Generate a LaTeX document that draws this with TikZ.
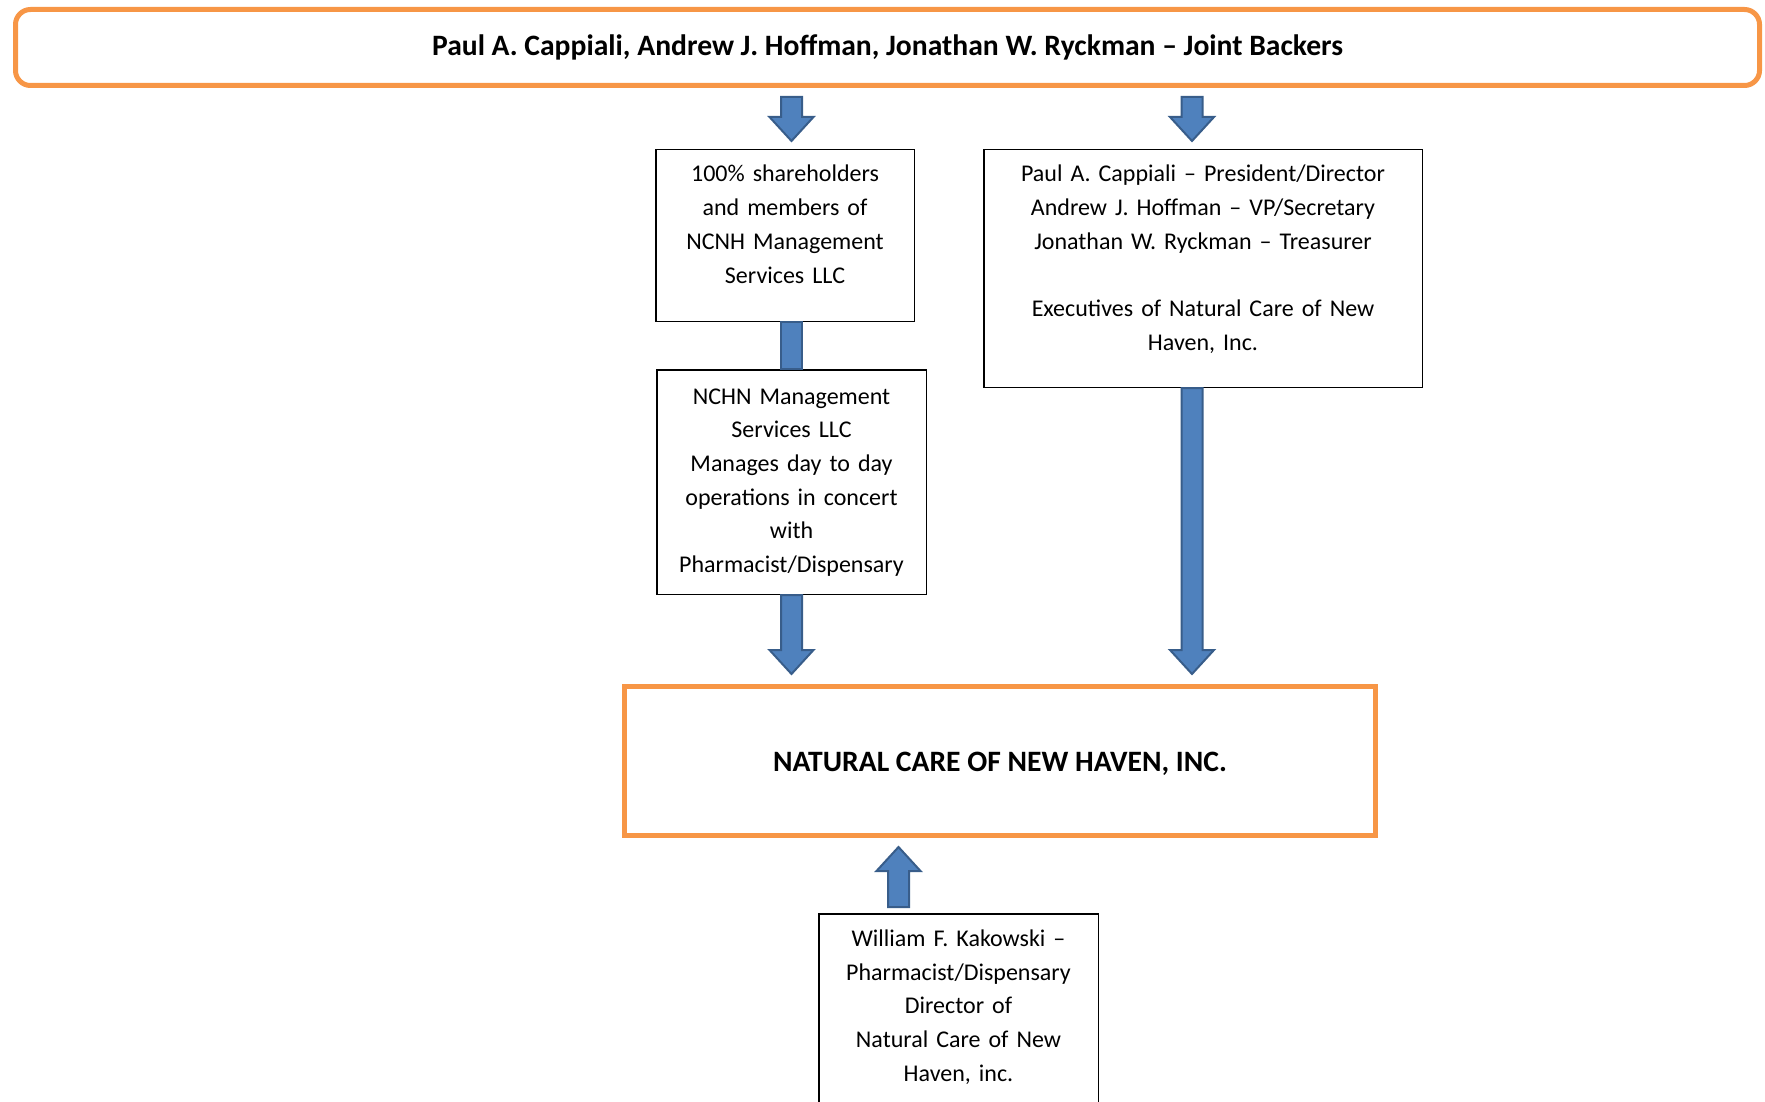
\documentclass[tikz,border=0pt]{standalone}
\usepackage{fontspec}
\setmainfont{Carlito}
\usetikzlibrary{calc, positioning}

\definecolor{backerorange}{HTML}{F79646}
\definecolor{arrowfill}{HTML}{4F81BD}
\definecolor{arrowline}{HTML}{385D8A}

\begin{document}
\begin{tikzpicture}[
    x=1pt, y=-1pt,
    every node/.style={font=\fontsize{24}{33.7}\selectfont},
    orgbox/.style={rectangle, draw, line width=1.5pt, inner sep=0pt, align=center, anchor=north west},
    mainbox/.style={rectangle, draw=backerorange, line width=5pt, align=center,
        font=\fontsize{29.6}{34}\selectfont\bfseries},
    blockarrow/.style={draw=arrowline, fill=arrowfill, line width=2pt,
        to path={let \p1=(\tikztostart), \p2=(\tikztotarget), \n1={ifthenelse(\y1>\y2,1,-1)} in
            (\x1-10.5pt,\y1) -- (\x1+10.5pt,\y1) -- (\x1+10.5pt,\y2+\n1*24pt) -- (\x1+22pt,\y2+\n1*24pt)
            -- (\x1,\y2) -- (\x1-22pt,\y2+\n1*24pt) -- (\x1-10.5pt,\y2+\n1*24pt) -- cycle}},
    shaftbar/.style={draw=arrowline, fill=arrowfill, line width=2pt,
        to path={let \p1=(\tikztostart), \p2=(\tikztotarget) in
            (\x1-10.5pt,\y1) rectangle (\x1+10.5pt,\y2)}}
]
\clip (0,0) rectangle (1765,1102);

\node[mainbox, rounded corners=15pt, minimum width=1744pt, minimum height=76pt,
    text height=22pt, text depth=6pt] (backers) at (887.5,47.5)
    {Paul A. Cappiali, Andrew J. Hoffman, Jonathan W. Ryckman – Joint Backers};

\node[orgbox, text width=258.5pt, text height=32.25pt, text depth=139.25pt] (sharebox) at (655,149)
    {100\% shareholders\\and members of\\NCNH Management\\Services LLC};
\node[orgbox, text width=438.5pt, text height=32.25pt, text depth=205.25pt] (execbox) at (983,149)
    {Paul A. Cappiali – President/Director\\Andrew J. Hoffman – VP/Secretary\\Jonathan W. Ryckman – Treasurer\\[33.7pt]Executives of Natural Care of New\\Haven, Inc.};
\node[orgbox, text width=269.5pt, text height=34.25pt, text depth=190.25pt] (mgmt) at (656,369)
    {NCHN Management\\Services LLC\\Manages day to day\\operations in concert\\with\\Pharmacist/Dispensary};

\node[mainbox, minimum width=751pt, minimum height=149pt,
    text height=24pt, text depth=3pt] (natcare) at (1000,761)
    {NATURAL CARE OF NEW HAVEN, INC.};

\node[orgbox, text width=279.5pt, text height=32.75pt, text depth=217.5pt] (kakowski) at (818,913)
    {William F. Kakowski –\\Pharmacist/Dispensary\\Director of\\Natural Care of New\\Haven, inc.};

% block arrows
\draw[blockarrow] ($(backers.south -| mgmt.north)+(0,9)$) to ($(sharebox.north -| mgmt.north)+(0,-8)$);
\draw[blockarrow] ($(backers.south -| execbox.north)+(-11,9)$) to ($(execbox.north)+(-11,-8)$);
\draw[shaftbar] (sharebox.south -| mgmt.north) to (mgmt.north);
\draw[blockarrow] (mgmt.south) to ($(mgmt.south |- natcare.north)+(0,-10)$);
\draw[blockarrow] ($(execbox.south)+(-11,0)$) to ($(execbox.south |- natcare.north)+(-11,-10)$);
\draw[blockarrow] ($(kakowski.north)+(-60,-6)$) to ($(kakowski.north |- natcare.south)+(-60,9)$);

\end{tikzpicture}
\end{document}
